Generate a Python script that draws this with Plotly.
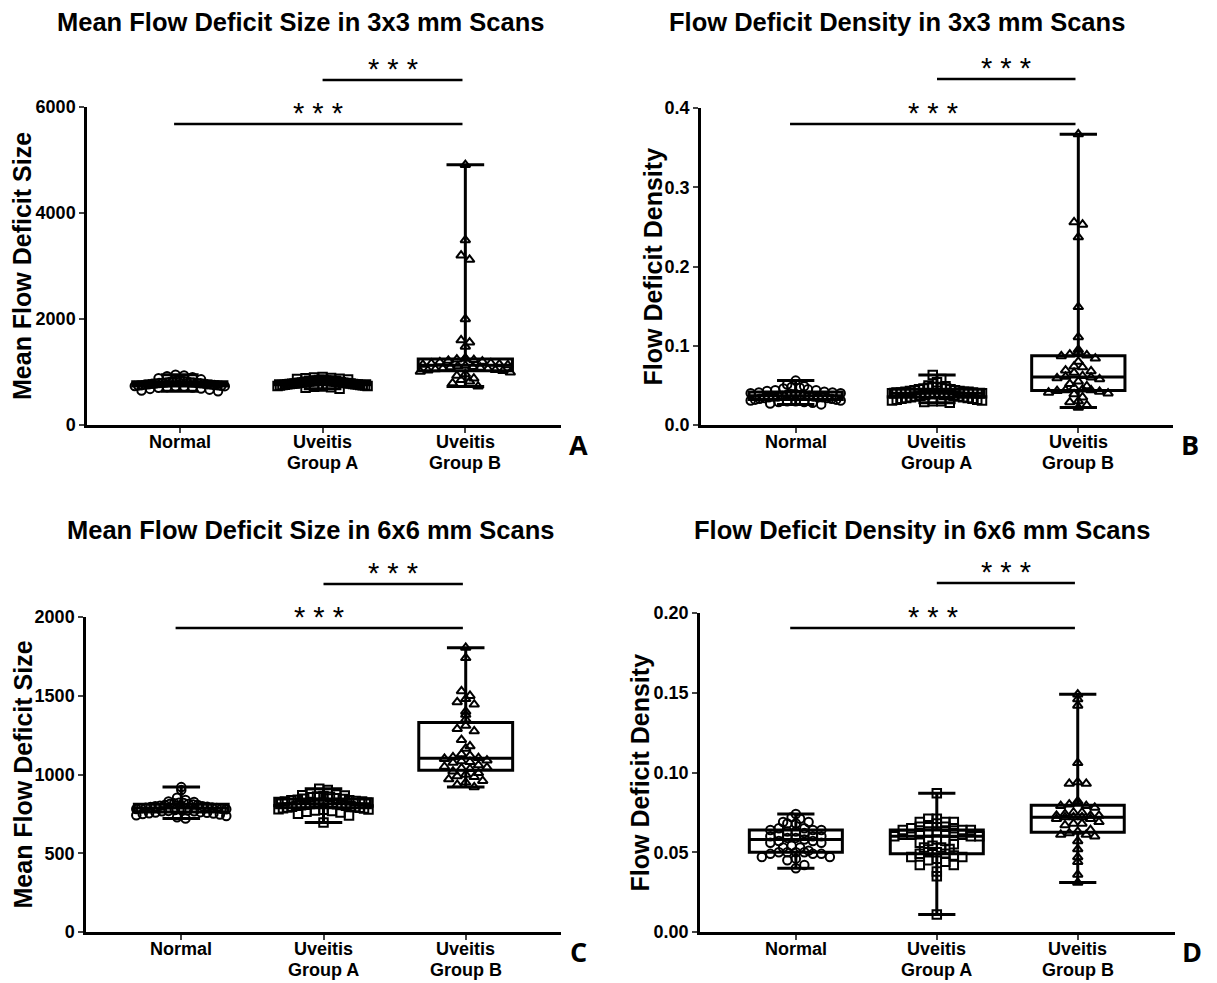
import plotly.graph_objects as go

W, H = 1217, 983

categories = [["Normal"], ["Uveitis", "Group A"], ["Uveitis", "Group B"]]

# Mean flow deficit size, 3x3 mm scans
size3_normal = [950, 934, 921, 903, 882, 861, 846, 837, 831, 824, 819, 811, 808, 803, 801, 796,
                793, 791, 786, 782, 780, 777, 771, 769, 764, 762, 756, 752, 749, 746, 740, 736,
                733, 726, 722, 714, 709, 701, 689, 681, 667, 651, 636]
size3_group_a = [904, 896, 887, 881, 871, 867, 859, 856, 849, 847, 841, 838, 836, 831, 829, 827,
                 822, 821, 816, 814, 812, 807, 806, 801, 799, 797, 792, 789, 788, 783, 781, 779,
                 774, 772, 768, 767, 762, 761, 756, 754, 751, 745, 743, 737, 734, 726, 721, 711,
                 701, 686]
size3_group_b = [4910, 3490, 3200, 3120, 2000, 1600, 1560, 1480, 1262, 1251, 1239, 1228, 1216,
                 1198, 1187, 1169, 1162, 1148, 1141, 1132, 1119, 1112, 1098, 1091, 1082, 1068,
                 1061, 1052, 1039, 1031, 1019, 1008, 991, 958, 931, 878, 851, 822, 788, 728]

# Flow deficit density, 3x3 mm scans
dens3_normal = [0.056, 0.051, 0.049, 0.048, 0.047, 0.046, 0.045, 0.044, 0.044, 0.043, 0.042,
                0.041, 0.041, 0.040, 0.040, 0.039, 0.039, 0.038, 0.038, 0.037, 0.037, 0.037,
                0.036, 0.036, 0.036, 0.035, 0.035, 0.035, 0.034, 0.034, 0.033, 0.033, 0.032,
                0.032, 0.031, 0.031, 0.030, 0.030, 0.029, 0.029, 0.028, 0.027, 0.026]
dens3_group_a = [0.063, 0.058, 0.054, 0.050, 0.049, 0.048, 0.048, 0.047, 0.047, 0.046, 0.046,
                 0.045, 0.045, 0.044, 0.044, 0.043, 0.043, 0.042, 0.042, 0.042, 0.041, 0.041,
                 0.041, 0.040, 0.040, 0.040, 0.039, 0.039, 0.039, 0.038, 0.038, 0.038, 0.037,
                 0.037, 0.036, 0.036, 0.035, 0.035, 0.034, 0.034, 0.033, 0.033, 0.032, 0.032,
                 0.031, 0.031, 0.030, 0.030, 0.029, 0.028]
dens3_group_b = [0.367, 0.256, 0.253, 0.237, 0.149, 0.111, 0.095, 0.092, 0.089, 0.088, 0.087,
                 0.084, 0.080, 0.074, 0.073, 0.069, 0.068, 0.066, 0.062, 0.061, 0.060, 0.059,
                 0.058, 0.055, 0.052, 0.049, 0.047, 0.045, 0.044, 0.044, 0.043, 0.042, 0.041,
                 0.040, 0.039, 0.035, 0.030, 0.029, 0.025, 0.022]

# Mean flow deficit size, 6x6 mm scans
size6_normal = [920, 901, 852, 838, 829, 826, 821, 819, 817, 813, 812, 809, 807, 806, 802, 799,
                798, 795, 793, 791, 789, 788, 785, 783, 781, 779, 777, 774, 773, 769, 767, 766,
                761, 759, 757, 754, 752, 749, 746, 741, 736, 728, 721]
size6_group_a = [910, 902, 879, 873, 869, 867, 864, 861, 859, 856, 849, 846, 844, 839, 837, 836,
                 831, 829, 828, 825, 823, 821, 819, 818, 816, 814, 812, 811, 808, 806, 804, 802,
                 801, 798, 796, 794, 791, 789, 786, 784, 780, 778, 776, 771, 768, 763, 759, 751,
                 739, 696]
size6_group_b = [1805, 1740, 1530, 1500, 1480, 1460, 1445, 1400, 1380, 1350, 1310, 1290, 1275,
                 1220, 1180, 1165, 1130, 1120, 1110, 1105, 1100, 1090, 1085, 1080, 1075, 1060,
                 1050, 1045, 1040, 1035, 1020, 1010, 1000, 990, 985, 970, 960, 950, 935, 920]

# Flow deficit density, 6x6 mm scans
dens6_normal = [0.074, 0.072, 0.071, 0.069, 0.069, 0.068, 0.068, 0.065, 0.065, 0.064, 0.064,
                0.064, 0.063, 0.063, 0.062, 0.061, 0.060, 0.060, 0.060, 0.059, 0.059, 0.058,
                0.057, 0.057, 0.056, 0.056, 0.054, 0.053, 0.053, 0.051, 0.050, 0.050, 0.050,
                0.050, 0.049, 0.049, 0.049, 0.047, 0.047, 0.046, 0.045, 0.042, 0.040]
dens6_group_a = [0.087, 0.071, 0.071, 0.069, 0.069, 0.069, 0.068, 0.067, 0.066, 0.066, 0.065,
                 0.065, 0.064, 0.064, 0.064, 0.063, 0.063, 0.063, 0.062, 0.062, 0.061, 0.061,
                 0.061, 0.060, 0.060, 0.060, 0.058, 0.057, 0.057, 0.056, 0.055, 0.054, 0.053,
                 0.053, 0.052, 0.050, 0.050, 0.049, 0.049, 0.048, 0.047, 0.047, 0.046, 0.045,
                 0.044, 0.042, 0.042, 0.038, 0.035, 0.011]
dens6_group_b = [0.149, 0.146, 0.142, 0.106, 0.094, 0.093, 0.093, 0.082, 0.081, 0.080, 0.079,
                 0.079, 0.078, 0.075, 0.075, 0.074, 0.073, 0.073, 0.073, 0.072, 0.072, 0.072,
                 0.071, 0.071, 0.069, 0.068, 0.068, 0.067, 0.064, 0.063, 0.062, 0.061, 0.061,
                 0.060, 0.057, 0.052, 0.047, 0.044, 0.036, 0.031]

symbols = ["circle-open", "square-open", "triangle-up-open"]
FONT = "Liberation Sans, Arial, sans-serif"

panels = [
    dict(groups=[size3_normal, size3_group_a, size3_group_b],
         title="Mean Flow Deficit Size in 3x3 mm Scans", ytitle="Mean Flow Deficit Size",
         letter="A", box=(87, 107, 561, 425), xr=[-0.65, 2.67], yr=[0, 6000], dtick=2000,
         fmt="d", title_x=301, title_y=22, ytitle_x=22, bars=(124, 80)),
    dict(groups=[dens3_normal, dens3_group_a, dens3_group_b],
         title="Flow Deficit Density in 3x3 mm Scans", ytitle="Flow Deficit Density",
         letter="B", box=(701, 108, 1173, 425), xr=[-0.67, 2.67], yr=[0, 0.4], dtick=0.1,
         fmt=".1f", title_x=897, title_y=22, ytitle_x=652, bars=(124, 79)),
    dict(groups=[size6_normal, size6_group_a, size6_group_b],
         title="Mean Flow Deficit Size in 6x6 mm Scans", ytitle="Mean Flow Deficit Size",
         letter="C", box=(86, 617, 561, 932), xr=[-0.67, 2.67], yr=[0, 2000], dtick=500,
         fmt="d", title_x=311, title_y=530, ytitle_x=22, bars=(628, 584)),
    dict(groups=[dens6_normal, dens6_group_a, dens6_group_b],
         title="Flow Deficit Density in 6x6 mm Scans", ytitle="Flow Deficit Density",
         letter="D", box=(700, 613, 1175, 932), xr=[-0.68, 2.69], yr=[0, 0.2], dtick=0.05,
         fmt=".2f", title_x=922, title_y=530, ytitle_x=639, bars=(628, 583)),
]


def swarm(values, px_per_unit, px_per_cat, row_px=7.0, step_px=8.5, half_px=45.0):
    # Prism-like scatter: points binned into rows, spread symmetrically within each row
    rows = {}
    for i, v in enumerate(values):
        rows.setdefault(int(round(v * px_per_unit / row_px)), []).append(i)
    offs = [0.0] * len(values)
    for idx in rows.values():
        n = len(idx)
        step = step_px
        if n > 1 and (n - 1) * step / 2 > half_px:
            step = 2 * half_px / (n - 1)
        pos = [(k - (n - 1) / 2) * step for k in range(n)]
        order = sorted(range(n), key=lambda k: (abs(pos[k]), pos[k]))
        for j, k in enumerate(order):
            offs[idx[j]] = pos[k] / px_per_cat
    return offs


fig = go.Figure()
annotations = []
shapes = []

for p_i, p in enumerate(panels):
    n = "" if p_i == 0 else str(p_i + 1)
    xa, ya = "x" + n, "y" + n
    left, top, right, bottom = p["box"]
    px_cat = (right - left) / (p["xr"][1] - p["xr"][0])
    px_unit = (bottom - top) / (p["yr"][1] - p["yr"][0])

    for g_i, vals in enumerate(p["groups"]):
        offs = swarm(vals, px_unit, px_cat)
        fig.add_trace(go.Scatter(
            x=[g_i + o for o in offs], y=vals, mode="markers", xaxis=xa, yaxis=ya,
            marker=dict(symbol=symbols[g_i], size=8.5, color="black", line=dict(width=2)),
            showlegend=False, hoverinfo="y"))
        fig.add_trace(go.Box(
            y=vals, x0=g_i, xaxis=xa, yaxis=ya, width=0.66, whiskerwidth=0.4,
            boxpoints=False, fillcolor="rgba(0,0,0,0)", line=dict(color="black", width=3),
            showlegend=False))

    fig.layout["xaxis" + n] = dict(
        domain=[left / W, right / W], range=p["xr"], anchor=ya, automargin=False,
        tickvals=[0, 1, 2], showticklabels=False, showline=True, linewidth=2.5,
        linecolor="black", ticks="outside", ticklen=5, tickwidth=2, showgrid=False,
        zeroline=False)
    fig.layout["yaxis" + n] = dict(
        domain=[1 - bottom / H, 1 - top / H], range=p["yr"], anchor=xa, automargin=False,
        dtick=p["dtick"], tickformat=p["fmt"], showline=True, linewidth=2.5,
        linecolor="black", ticks="outside", ticklen=5, tickwidth=2, showgrid=False,
        zeroline=False, tickfont=dict(family=FONT, size=18, color="black", weight="bold"))

    # category labels, one annotation per text line
    for g_i, lines in enumerate(categories):
        for l_i, line in enumerate(lines):
            annotations.append(dict(text=line, xref=xa, yref="paper", x=g_i,
                                    y=1 - (bottom + 17 + 21 * l_i) / H, showarrow=False,
                                    xanchor="center", yanchor="middle",
                                    font=dict(family=FONT, size=18, color="black",
                                              weight="bold")))

    # significance brackets
    def fx(c):
        return (c - p["xr"][0]) / (p["xr"][1] - p["xr"][0])

    for (c0, c1), by in zip([(-0.04, 1.98), (1.0, 1.98)], p["bars"]):
        yd = (bottom - by) / (bottom - top)
        shapes.append(dict(type="line", xref=xa + " domain", yref=ya + " domain",
                           x0=fx(c0), x1=fx(c1), y0=yd, y1=yd,
                           line=dict(color="black", width=2.5)))
        annotations.append(dict(text="* * *", xref=xa + " domain", yref=ya + " domain",
                                x=(fx(c0) + fx(c1)) / 2, y=yd, xanchor="center",
                                yanchor="bottom", showarrow=False, yshift=-7,
                                font=dict(family=FONT, size=29, color="black")))

    annotations.append(dict(text=p["title"], xref="paper", yref="paper",
                            x=p["title_x"] / W, y=1 - p["title_y"] / H, showarrow=False,
                            xanchor="center", yanchor="middle",
                            font=dict(family=FONT, size=25.5, color="black", weight="bold")))
    annotations.append(dict(text=p["ytitle"], xref="paper", yref="paper", textangle=-90,
                            x=p["ytitle_x"] / W, y=1 - (top + bottom) / 2 / H, showarrow=False,
                            xanchor="center", yanchor="middle",
                            font=dict(family=FONT, size=25, color="black", weight="bold")))
    annotations.append(dict(text=p["letter"], xref="paper", yref="paper",
                            x=(right + 17) / W, y=1 - (bottom + 19) / H, showarrow=False,
                            xanchor="center", yanchor="middle",
                            font=dict(family="Open Sans, sans-serif", size=27, color="black",
                                      weight="bold")))

fig.update_layout(
    width=W, height=H, margin=dict(l=0, r=0, t=0, b=0, autoexpand=False),
    plot_bgcolor="white", paper_bgcolor="white",
    annotations=annotations, shapes=shapes, showlegend=False,
)

fig.write_html("out.html", config={"displayModeBar": False},
               post_script="document.body.style.margin='0px';")
